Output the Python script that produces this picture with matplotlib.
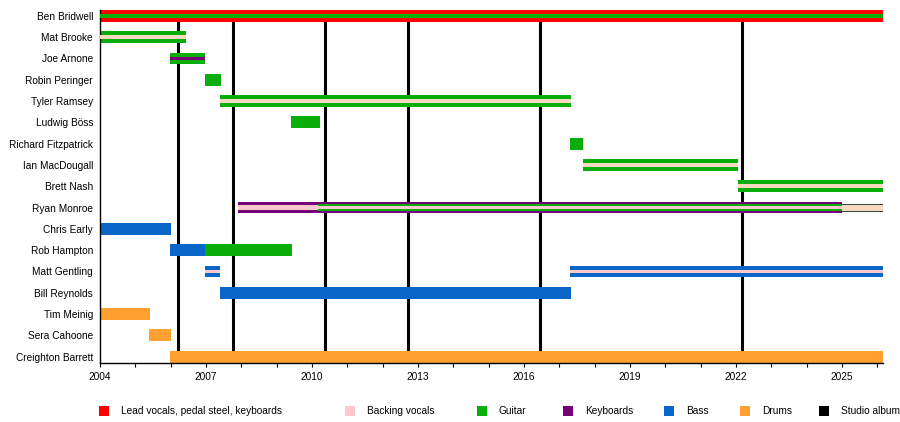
import matplotlib
matplotlib.use("Agg")
import matplotlib.pyplot as plt
from matplotlib.patches import Rectangle

plt.rcParams["font.family"] = ["Liberation Sans", "DejaVu Sans"]

# --- datos -------------------------------------------------------------
END = 2026.16

members = [
    "Ben Bridwell", "Mat Brooke", "Joe Arnone", "Robin Peringer",
    "Tyler Ramsey", "Ludwig Böss", "Richard Fitzpatrick", "Ian MacDougall",
    "Brett Nash", "Ryan Monroe", "Chris Early", "Rob Hampton",
    "Matt Gentling", "Bill Reynolds", "Tim Meinig", "Sera Cahoone",
    "Creighton Barrett",
]

# un tramo por fila: miembro, inicio, fin, rol principal, rol secundario
seg_member = [
    "Ben Bridwell", "Mat Brooke", "Joe Arnone", "Robin Peringer",
    "Tyler Ramsey", "Ludwig Böss", "Richard Fitzpatrick", "Ian MacDougall",
    "Brett Nash", "Chris Early", "Rob Hampton", "Rob Hampton",
    "Matt Gentling", "Matt Gentling", "Bill Reynolds", "Tim Meinig",
    "Sera Cahoone", "Creighton Barrett",
]
seg_start = [
    2004.0, 2004.0, 2005.98, 2006.97,
    2007.40, 2009.41, 2017.30, 2017.67,
    2022.06, 2004.0, 2005.98, 2006.97,
    2006.97, 2017.30, 2007.40, 2004.0,
    2005.39, 2005.98,
]
seg_end = [
    END, 2006.43, 2006.97, 2007.42,
    2017.33, 2010.23, 2017.67, 2022.06,
    END, 2006.01, 2006.97, 2009.43,
    2007.40, END, 2017.33, 2005.42,
    2006.01, END,
]
seg_role = [
    "vocals", "guitar", "guitar", "guitar",
    "guitar", "guitar", "guitar", "guitar",
    "guitar", "bass", "bass", "guitar",
    "bass", "bass", "bass", "drums",
    "drums", "drums",
]
seg_inner = [
    "guitar", "backing", "keys", None,
    "backing", None, None, "backing",
    "backing", None, None, None,
    "backing", "backing", None, None,
    None, None,
]

# Ryan Monroe: teclados + guitarra + coros
ryan_start = [2007.91, 2010.17, 2025.0]
ryan_end = [2010.17, 2025.0, END]

albums = [2006.22, 2007.77, 2010.38, 2012.71, 2016.44, 2022.17]

legend_labels = ["Lead vocals, pedal steel, keyboards", "Backing vocals",
                 "Guitar", "Keyboards", "Bass", "Drums", "Studio album"]

# --- estilo ------------------------------------------------------------
colors = {
    "vocals": "#ff0000",
    "backing": "#ffc8cc",
    "guitar": "#0aae0a",
    "keys": "#760076",
    "bass": "#0a66c8",
    "drums": "#ffa030",
    "album": "#000000",
}
inner_on_green = "#f6dac0"
H_FULL = 0.55
H_IN = 0.21

fig = plt.figure(figsize=(9, 4.22), dpi=100)
ax = fig.add_axes([100 / 900, 1 - 362.5 / 422, (883 - 100) / 900,
                   (362.5 - 10) / 422])

ypos = {m: i for i, m in enumerate(members)}

for a in albums:
    ax.axvline(a, color=colors["album"], lw=2.2, zorder=1)

for m, s, e, r, inn in zip(seg_member, seg_start, seg_end, seg_role, seg_inner):
    y = ypos[m]
    ax.barh(y, e - s, left=s, height=H_FULL, color=colors[r], lw=0, zorder=2)
    if inn is not None:
        c = colors[inn]
        if inn == "backing" and r == "guitar":
            c = inner_on_green
        h = H_IN if r != "bass" and inn != "keys" else 0.18
        ax.barh(y, e - s, left=s, height=h, color=c, lw=0, zorder=3)

# Ryan Monroe
y = ypos["Ryan Monroe"]
ax.barh(y, ryan_end[0] - ryan_start[0], left=ryan_start[0], height=H_FULL,
        color=colors["keys"], lw=0, zorder=2)
ax.barh(y, ryan_end[0] - ryan_start[0], left=ryan_start[0], height=0.24,
        color=colors["backing"], lw=0, zorder=3)
ax.barh(y, ryan_end[1] - ryan_start[1], left=ryan_start[1], height=H_FULL,
        color=colors["keys"], lw=0, zorder=2)
ax.barh(y, ryan_end[1] - ryan_start[1], left=ryan_start[1], height=0.34,
        color=colors["guitar"], lw=0, zorder=3)
ax.barh(y, ryan_end[1] - ryan_start[1], left=ryan_start[1], height=0.14,
        color=colors["backing"], lw=0, zorder=4)
ax.barh(y, ryan_end[2] - ryan_start[2], left=ryan_start[2], height=0.38,
        color="#3c463c", lw=0, zorder=2)
ax.barh(y, ryan_end[2] - ryan_start[2], left=ryan_start[2], height=0.28,
        color=inner_on_green, lw=0, zorder=3)

ax.set_xlim(2004, END)
ax.set_ylim(len(members) - 1 + H_FULL / 2, -H_FULL / 2)
ax.set_yticks(range(len(members)))
ax.set_yticklabels(members, fontsize=7.3)
ax.tick_params(axis="y", length=0, pad=5)

ax.set_xticks(range(2004, 2026, 3))
ax.set_xticks(range(2004, 2027), minor=True)
ax.tick_params(axis="x", which="both", direction="out", length=3, width=0.8,
               labelsize=7.3, pad=4)

for sp in ["top", "right"]:
    ax.spines[sp].set_visible(False)
ax.spines["left"].set_linewidth(1)
ax.spines["bottom"].set_linewidth(1)

# leyenda manual
leg_x = [99, 345, 477, 563, 664, 740, 819]
leg_keys = ["vocals", "backing", "guitar", "keys", "bass", "drums", "album"]
for x, k, lab in zip(leg_x, leg_keys, legend_labels):
    fig.patches.append(Rectangle((x / 900, 1 - 416 / 422), 10 / 900, 10 / 422,
                                 transform=fig.transFigure,
                                 color=colors[k], lw=0))
    fig.text((x + 22) / 900, 1 - 411 / 422, lab, fontsize=7.3, va="center",
             ha="left")

plt.savefig("out.png", dpi=100)
plt.close()
